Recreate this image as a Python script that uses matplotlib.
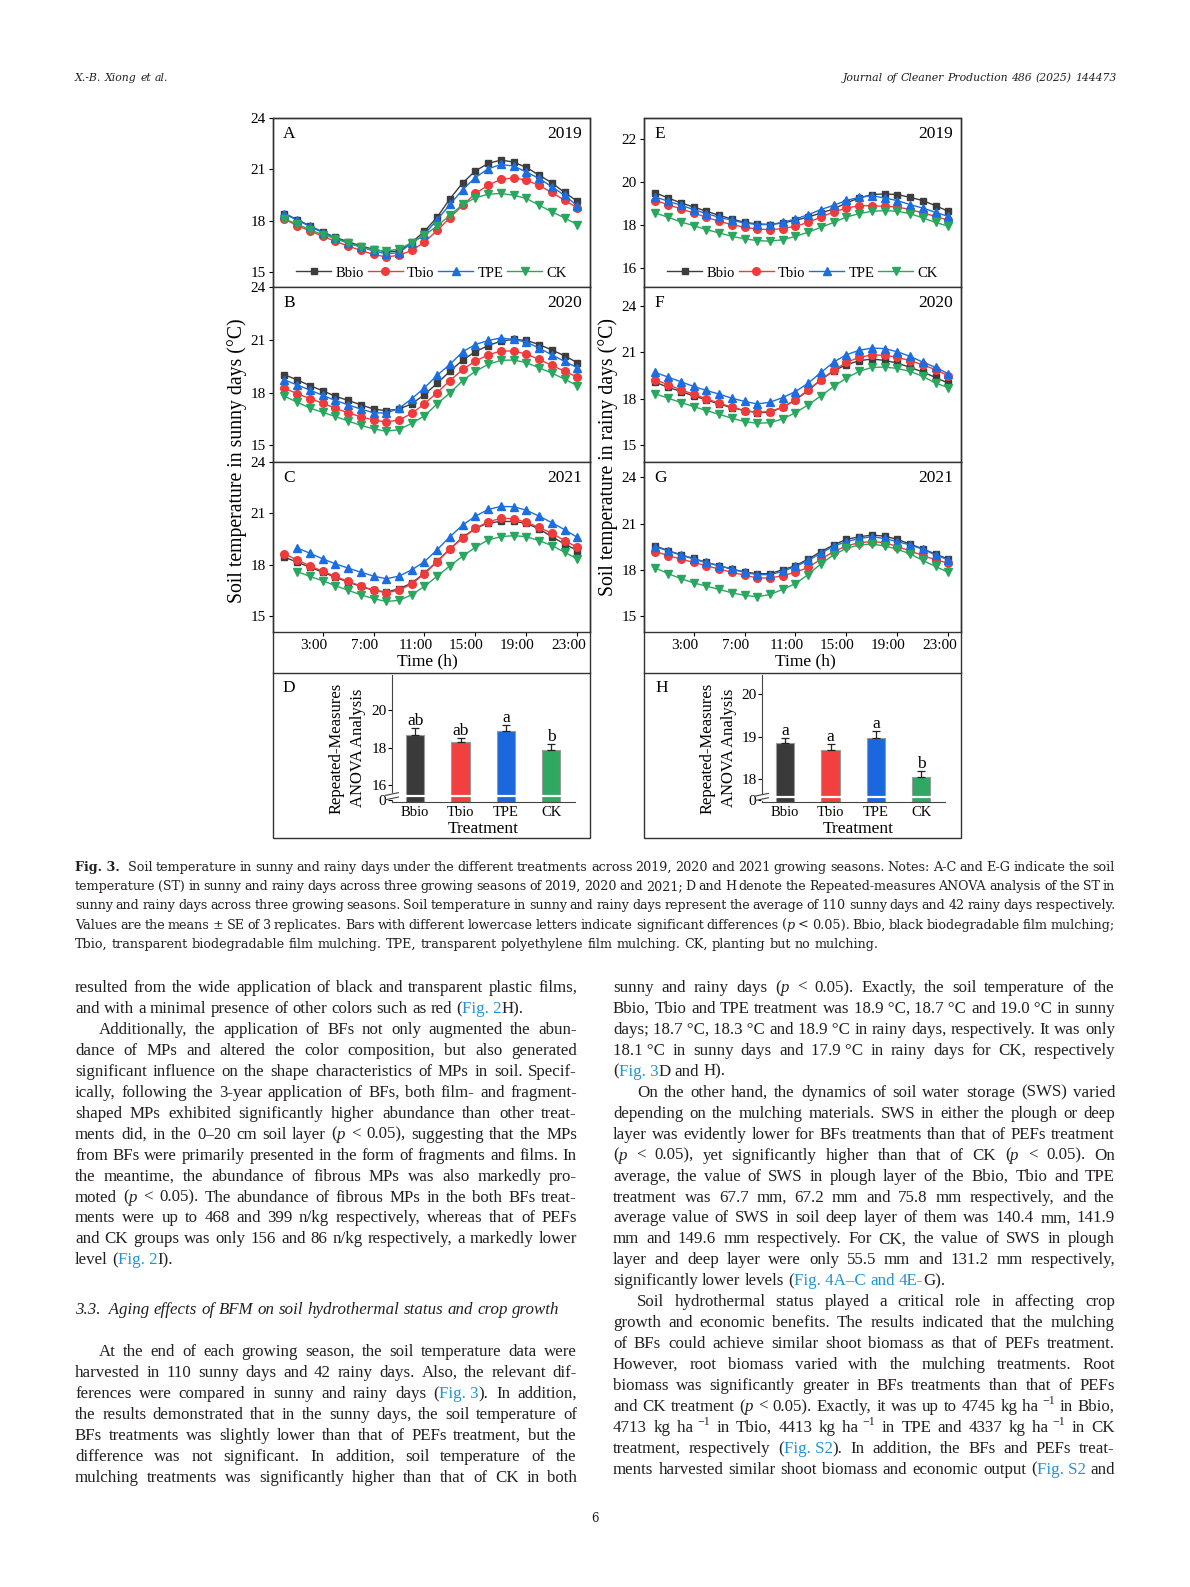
"""
Fig. 3 page: soil temperature in sunny / rainy days (journal page layout)
"""
import numpy as np
import matplotlib
matplotlib.use('Agg')
import matplotlib.pyplot as plt
from matplotlib.font_manager import FontProperties
from matplotlib.transforms import ScaledTranslation
from matplotlib.patches import Rectangle
from matplotlib.lines import Line2D

plt.rcParams['font.family'] = 'Liberation Serif'

W, H = 1190, 1587
nan = np.nan

hours = list(range(24))
treatments = ['Bbio', 'Tbio', 'TPE', 'CK']
colors = ['#3d3d3d', '#ef3b3b', '#1c6ee0', '#2aa75f']
bar_colors = ['#3a3a3a', '#f23f3f', '#1b67dd', '#2fa862']
markers = ['s', 'o', '^', 'v']
msizes = [5, 5.5, 6, 6]
time_ticks = [3, 7, 11, 15, 19, 23]
time_labels = ['3:00', '7:00', '11:00', '15:00', '19:00', '23:00']

# A: sunny days 2019
A_bbio = [18.43, 18.08, 17.71, 17.36, 17.04, 16.79, 16.54, 16.35, 16.20, 16.25, 16.75, 17.40,
          18.23, 19.29, 20.22, 20.92, 21.35, 21.55, 21.43, 21.12, 20.67, 20.22, 19.66, 19.15]
A_tbio = [18.10, 17.73, 17.42, 17.10, 16.81, 16.54, 16.28, 16.05, 15.90, 16.00, 16.28, 16.77,
          17.45, 18.18, 18.92, 19.60, 20.09, 20.42, 20.51, 20.38, 20.07, 19.66, 19.21, 18.76]
A_tpe = [18.43, 18.04, 17.69, 17.32, 17.01, 16.71, 16.48, 16.25, 16.09, 16.15, 16.71, 17.22,
         18.08, 18.96, 19.83, 20.53, 21.04, 21.29, 21.20, 20.85, 20.48, 19.99, 19.50, 18.88]
A_ck = [18.12, 17.81, 17.49, 17.20, 16.97, 16.71, 16.48, 16.30, 16.25, 16.36, 16.73, 17.16,
        17.71, 18.33, 18.96, 19.35, 19.56, 19.60, 19.50, 19.31, 18.92, 18.53, 18.18, 17.79]

# B: sunny days 2020
B_bbio = [19.01, 18.72, 18.39, 18.10, 17.79, 17.55, 17.30, 17.06, 16.97, 17.06, 17.36, 17.88,
          18.53, 19.21, 19.85, 20.32, 20.67, 20.92, 21.02, 20.96, 20.73, 20.42, 20.09, 19.70]
B_tbio = [18.23, 17.94, 17.65, 17.40, 17.10, 16.85, 16.62, 16.44, 16.32, 16.44, 16.81, 17.36,
          18.00, 18.68, 19.31, 19.79, 20.14, 20.36, 20.36, 20.18, 19.89, 19.54, 19.21, 18.88]
B_tpe = [18.72, 18.43, 18.14, 17.84, 17.55, 17.30, 17.06, 16.85, 16.83, 17.10, 17.65, 18.27,
         18.99, 19.60, 20.32, 20.73, 20.96, 21.10, 21.02, 20.87, 20.53, 20.14, 19.77, 19.42]
B_ck = [17.79, 17.45, 17.12, 16.87, 16.64, 16.38, 16.13, 15.93, 15.80, 15.89, 16.25, 16.67,
        17.36, 17.98, 18.68, 19.21, 19.60, 19.83, 19.85, 19.70, 19.40, 19.11, 18.76, 18.39]

# C: sunny days 2021
C_bbio = [18.43, 18.14, 17.84, 17.55, 17.26, 16.97, 16.72, 16.49, 16.39, 16.58, 16.91, 17.50,
          18.19, 18.91, 19.59, 20.12, 20.43, 20.52, 20.52, 20.41, 20.08, 19.63, 19.20, 18.82]
C_tbio = [18.62, 18.27, 17.92, 17.61, 17.30, 17.01, 16.74, 16.49, 16.35, 16.49, 16.87, 17.46,
          18.17, 18.91, 19.55, 20.12, 20.50, 20.70, 20.68, 20.47, 20.17, 19.83, 19.40, 19.01]
C_tpe = [nan, 18.97, 18.66, 18.33, 18.04, 17.79, 17.55, 17.32, 17.17, 17.32, 17.69, 18.17,
         18.87, 19.63, 20.31, 20.83, 21.22, 21.40, 21.38, 21.18, 20.83, 20.45, 20.04, 19.59]
C_ck = [nan, 17.59, 17.30, 17.05, 16.76, 16.49, 16.23, 16.00, 15.84, 15.90, 16.23, 16.72,
        17.32, 17.92, 18.49, 19.01, 19.44, 19.63, 19.69, 19.63, 19.40, 19.11, 18.72, 18.33]

# E: rainy days 2019
E_bbio = [19.50, 19.26, 19.03, 18.84, 18.64, 18.45, 18.28, 18.12, 18.05, 18.02, 18.09, 18.22,
          18.37, 18.56, 18.75, 19.03, 19.26, 19.42, 19.45, 19.42, 19.29, 19.14, 18.90, 18.64]
E_tbio = [19.14, 18.95, 18.75, 18.56, 18.36, 18.17, 18.02, 17.89, 17.81, 17.78, 17.83, 17.94,
          18.12, 18.37, 18.61, 18.79, 18.90, 18.90, 18.87, 18.84, 18.72, 18.56, 18.40, 18.22]
E_tpe = [19.31, 19.11, 18.92, 18.72, 18.53, 18.36, 18.22, 18.09, 18.02, 18.02, 18.12, 18.28,
         18.48, 18.72, 18.92, 19.15, 19.29, 19.37, 19.26, 19.14, 18.95, 18.79, 18.59, 18.40]
E_ck = [18.56, 18.36, 18.14, 17.97, 17.78, 17.63, 17.47, 17.35, 17.27, 17.24, 17.31, 17.47,
        17.66, 17.89, 18.12, 18.37, 18.53, 18.64, 18.67, 18.64, 18.53, 18.33, 18.12, 17.94]

# F: rainy days 2020
F_bbio = [19.04, 18.73, 18.45, 18.17, 17.91, 17.65, 17.40, 17.22, 17.09, 17.11, 17.44, 17.91,
          18.52, 19.21, 19.79, 20.18, 20.44, 20.55, 20.46, 20.29, 20.01, 19.71, 19.36, 18.99]
F_tbio = [19.21, 18.89, 18.56, 18.28, 17.98, 17.70, 17.44, 17.22, 17.11, 17.16, 17.44, 17.91,
          18.56, 19.21, 19.81, 20.33, 20.66, 20.81, 20.79, 20.66, 20.44, 20.18, 19.86, 19.47]
F_tpe = [19.68, 19.38, 19.08, 18.78, 18.52, 18.28, 18.02, 17.81, 17.65, 17.76, 18.06, 18.45,
         18.99, 19.68, 20.35, 20.83, 21.11, 21.26, 21.22, 21.02, 20.72, 20.35, 20.01, 19.60]
F_ck = [18.30, 18.02, 17.74, 17.48, 17.22, 16.98, 16.73, 16.51, 16.40, 16.44, 16.68, 17.09,
        17.59, 18.17, 18.78, 19.32, 19.75, 20.01, 20.03, 19.94, 19.75, 19.43, 18.99, 18.71]

# G: rainy days 2021
G_bbio = [19.54, 19.24, 18.96, 18.73, 18.47, 18.26, 18.04, 17.85, 17.74, 17.74, 18.00, 18.26,
          18.69, 19.18, 19.61, 19.97, 20.14, 20.25, 20.18, 19.97, 19.67, 19.35, 19.01, 18.69]
G_tbio = [19.18, 18.92, 18.69, 18.47, 18.26, 18.04, 17.83, 17.64, 17.46, 17.46, 17.61, 17.83,
          18.15, 18.69, 19.18, 19.54, 19.76, 19.82, 19.76, 19.50, 19.22, 18.92, 18.64, 18.43]
G_tpe = [19.50, 19.22, 18.96, 18.69, 18.47, 18.26, 18.04, 17.83, 17.68, 17.68, 17.89, 18.21,
         18.60, 19.07, 19.54, 19.82, 20.03, 20.14, 20.03, 19.82, 19.61, 19.33, 18.96, 18.64]
G_ck = [18.11, 17.74, 17.42, 17.14, 16.93, 16.72, 16.50, 16.33, 16.24, 16.39, 16.72, 17.10,
        17.68, 18.39, 18.96, 19.39, 19.61, 19.67, 19.54, 19.33, 19.03, 18.60, 18.21, 17.83]

# D / H: repeated-measures ANOVA means, SE and letters
D_means = [18.70, 18.32, 18.91, 17.88]
D_se = [0.34, 0.22, 0.29, 0.30]
D_letters = ['ab', 'ab', 'a', 'b']
H_means = [18.85, 18.68, 18.98, 18.06]
H_se = [0.13, 0.14, 0.15, 0.14]
H_letters = ['a', 'a', 'a', 'b']

fig = plt.figure(figsize=(W / 100, H / 100), dpi=100)
fig.patch.set_facecolor('white')


def rect(x0, y0, x1, y1):
    return [x0 / W, 1 - y1 / H, (x1 - x0) / W, (y1 - y0) / H]


FRAME = '#333333'


def line_panel(box, series, ylim, yticks, letter, year, legend=False, xlabels=False):
    ax = fig.add_axes(rect(*box))
    for vals, c, m, ms, name in zip(series, colors, markers, msizes, treatments):
        ax.plot(hours, vals, color=c, marker=m, ms=ms, lw=1.0, label=name)
    ax.set_xlim(-0.9, 24.0)
    ax.set_ylim(*ylim)
    ax.set_yticks(yticks)
    ax.set_xticks(time_ticks)
    ax.tick_params(direction='out', length=3, width=0.8, labelsize=11, pad=2)
    if xlabels:
        ax.set_xticklabels(time_labels)
        shift = ScaledTranslation(-9 / 100, 0, fig.dpi_scale_trans)
        for lab in ax.get_xticklabels():
            lab.set_transform(lab.get_transform() + shift)
    else:
        ax.set_xticklabels([])
    for s in ax.spines.values():
        s.set_color(FRAME)
        s.set_linewidth(1.0)
    ax.annotate(letter, (0, 1), xycoords='axes fraction', xytext=(10, -16),
                textcoords='offset pixels', ha='left', va='center', fontsize=12.5)
    if year:
        ax.annotate(year, (1, 1), xycoords='axes fraction', xytext=(-8, -16),
                    textcoords='offset pixels', ha='right', va='center', fontsize=12.5)
    if legend:
        ax.legend(loc='center', bbox_to_anchor=(0.5, 0.083), ncol=4, frameon=False,
                  fontsize=10.5, handlelength=2.4, handletextpad=0.3, columnspacing=0.25,
                  borderpad=0, borderaxespad=0)
    return ax


def bar_panel(box, means, se, letters, ylim, yticks, yticklabels, brk):
    ax = fig.add_axes(rect(*box))
    x = np.arange(4)
    base = ylim[0]
    ax.bar(x, np.array(means) - base, bottom=base, width=0.4, color=bar_colors,
           edgecolor='#9a9a9a', lw=0.8, zorder=2)
    ax.errorbar(x, means, yerr=[np.zeros(4), se], fmt='none', ecolor='#222222',
                elinewidth=0.9, capsize=3, capthick=0.9, zorder=3)
    for xi, m, e, lab in zip(x, means, se, letters):
        ax.annotate(lab, (xi, m + e), xytext=(0, 3), textcoords='offset pixels',
                    ha='center', va='baseline', fontsize=12.5)
    ax.hlines(brk, -0.3, 3.3, color='white', lw=1.6, zorder=4)
    ax.set_xlim(-0.51, 3.52)
    ax.set_ylim(*ylim)
    ax.set_yticks(yticks)
    ax.set_yticklabels(yticklabels)
    ax.set_xticks(x)
    ax.set_xticklabels(treatments)
    ax.tick_params(axis='x', direction='in', length=3, labelsize=10.5, pad=3)
    ax.tick_params(axis='y', direction='out', length=3, labelsize=11, pad=1)
    for side in ['top', 'right']:
        ax.spines[side].set_visible(False)
    for side in ['left', 'bottom']:
        ax.spines[side].set_color('#444444')
    # axis break marks
    pxu = (box[3] - box[1]) / (ylim[1] - ylim[0])
    d = 2.2 / pxu
    tr = ax.get_yaxis_transform()
    ax.plot([0, 0], [brk - d, brk + d], color='white', lw=2, transform=tr, clip_on=False, zorder=5)
    for yy in (brk - d, brk + d):
        ax.plot([-0.035, 0.035], [yy - 0.6 * d, yy + 0.6 * d], color='#444444', lw=0.8,
                transform=tr, clip_on=False, zorder=6)
    return ax


# sunny days (left column)
line_panel((273, 118, 590, 287), [A_bbio, A_tbio, A_tpe, A_ck], (14.15, 24), [15, 18, 21, 24],
           'A', '2019', legend=True)
line_panel((273, 287, 590, 462), [B_bbio, B_tbio, B_tpe, B_ck], (14.05, 24), [15, 18, 21, 24],
           'B', '2020')
line_panel((273, 462, 590, 632), [C_bbio, C_tbio, C_tpe, C_ck], (14.05, 24), [15, 18, 21, 24],
           'C', '2021', xlabels=True)
# rainy days (right column)
line_panel((644, 118, 961, 287), [E_bbio, E_tbio, E_tpe, E_ck], (15.1, 23.0), [16, 18, 20, 22],
           'E', '2019', legend=True)
line_panel((644, 287, 961, 462), [F_bbio, F_tbio, F_tpe, F_ck], (13.9, 25.2), [15, 18, 21, 24],
           'F', '2020')
line_panel((644, 462, 961, 632), [G_bbio, G_tbio, G_tpe, G_ck], (13.95, 25.0), [15, 18, 21, 24],
           'G', '2021', xlabels=True)

bar_panel((392, 675, 575, 802), D_means, D_se, D_letters, (15.1, 21.9), [15.22, 16, 18, 20],
          ['0', '16', '18', '20'], 15.41)
bar_panel((762, 675, 945, 802), H_means, H_se, H_letters, (17.46, 20.46), [17.5, 18, 19, 20],
          ['0', '18', '19', '20'], 17.58)

# frames around each column
for x0, x1 in [(273, 590), (644, 961)]:
    fig.add_artist(Rectangle((x0 / W, 1 - 838 / H), (x1 - x0) / W, (838 - 118) / H,
                             transform=fig.transFigure, fill=False, lw=1.0, ec=FRAME))
    fig.add_artist(Line2D([x0 / W, x1 / W], [1 - 673 / H, 1 - 673 / H],
                          transform=fig.transFigure, lw=1.0, color=FRAME))


def ftext(x, y, s, **kw):
    return fig.text(x / W, 1 - y / H, s, **kw)


ftext(427, 661, 'Time (h)', ha='center', va='center', fontsize=12.5)
ftext(805, 661, 'Time (h)', ha='center', va='center', fontsize=12.5)
ftext(237, 461, 'Soil temperature in sunny days (°C)', rotation=90, ha='center', va='center',
      fontsize=14.2)
ftext(608, 457, 'Soil temperature in rainy days (°C)', rotation=90, ha='center', va='center',
      fontsize=14.2)
ftext(289, 688, 'D', ha='center', va='center', fontsize=12.5)
ftext(662, 688, 'H', ha='center', va='center', fontsize=12.5)
for xc in (347, 718):
    ftext(xc, 748, 'Repeated-Measures\nANOVA Analysis', rotation=90, ha='center', va='center',
          fontsize=12, linespacing=1.45, multialignment='center')
ftext(483, 829, 'Treatment', ha='center', va='center', fontsize=12.5)
ftext(858, 829, 'Treatment', ha='center', va='center', fontsize=12.5)

# ---------------- page text ----------------
INK = '#231f20'
BLUE = '#2093d4'
renderer = fig.canvas.get_renderer()
_cache = {}


def fprops(family, size, st):
    return FontProperties(family=family, size=size * (0.7 if st['sup'] else 1.0),
                          style='italic' if st['ital'] else 'normal',
                          weight='bold' if st['bold'] else 'normal')


def adv(s, prop):
    key = (s, prop.get_family()[0], prop.get_size(), prop.get_style(), prop.get_weight())
    if key not in _cache:
        w1 = renderer.get_text_width_height_descent('x' + s + 'x', prop, ismath=False)[0]
        w0 = renderer.get_text_width_height_descent('xx', prop, ismath=False)[0]
        _cache[key] = w1 - w0
    return _cache[key]


def parse(line):
    words, cur, buf = [], [], ['']
    st = dict(blue=False, ital=False, bold=False, sup=False)

    def flush():
        if buf[0]:
            cur.append((buf[0], dict(st)))
            buf[0] = ''

    for ch in line:
        if ch == ' ':
            flush()
            if cur:
                words.append(list(cur))
            cur.clear()
            st['sup'] = False
        elif ch in '{}':
            flush()
            st['blue'] = (ch == '{')
        elif ch == '|':
            flush()
            st['ital'] = not st['ital']
        elif ch == '*':
            flush()
            st['bold'] = not st['bold']
        elif ch == '^':
            flush()
            st['sup'] = True
        else:
            buf[0] += ' ' if ch == '~' else ch
    flush()
    if cur:
        words.append(list(cur))
    return words


PLAIN = dict(blue=False, ital=False, bold=False, sup=False)


def natural_width(line, family, size):
    words = parse(line)
    widths = [sum(adv(s, fprops(family, size, st)) for s, st in w) for w in words]
    return sum(widths) + adv(' ', fprops(family, size, PLAIN)) * (len(words) - 1)


def text_line(line, x0, x1, y, family, size, justify=True, indent=0, color=INK, minspace=0.75):
    words = parse(line)
    x0 = x0 + indent
    avail = x1 - x0
    widths = [sum(adv(s, fprops(family, size, st)) for s, st in w) for w in words]
    space = adv(' ', fprops(family, size, PLAIN))
    total = sum(widths) + minspace * space * (len(words) - 1)
    k = min(1.0, avail / total)
    if justify and len(words) > 1:
        gap = (avail - k * sum(widths)) / (len(words) - 1)
    else:
        gap = space * k
    x = x0
    for w, ww in zip(words, widths):
        xx = x
        for s, st in w:
            p = fprops(family, size * k, st)
            dy = 0.4 * size * k * 100 / 72 if st['sup'] else 0
            fig.text(xx / W, (H - y + dy) / H, s, fontproperties=p,
                     color=BLUE if st['blue'] else color, ha='left', va='baseline')
            xx += adv(s, p)
        x += ww * k + gap


# running header
HFONT, HSIZE = 'DejaVu Serif', 7.8
text_line('|X.-B. Xiong et al.|', 75, 400, 81, HFONT, HSIZE, justify=False)
hdr = '|Journal of Cleaner Production 486 (2025) 144473|'
hw = natural_width(hdr, HFONT, HSIZE)
text_line(hdr, 1116 - hw, 1116, 81, HFONT, HSIZE, justify=False, minspace=1.0)

# caption
caption = [
    '*Fig.~3.*~~Soil temperature in sunny and rainy days under the different treatments across 2019, 2020 and 2021 growing seasons. Notes: A-C and E-G indicate the soil',
    'temperature (ST) in sunny and rainy days across three growing seasons of 2019, 2020 and 2021; D and H denote the Repeated-measures ANOVA analysis of the ST in',
    'sunny and rainy days across three growing seasons. Soil temperature in sunny and rainy days represent the average of 110 sunny days and 42 rainy days respectively.',
    'Values are the means ± SE of 3 replicates. Bars with different lowercase letters indicate significant differences (|p| < 0.05). Bbio, black biodegradable film mulching;',
    'Tbio, transparent biodegradable film mulching. TPE, transparent polyethylene film mulching. CK, planting but no mulching.',
]
for i, ln in enumerate(caption):
    text_line(ln, 75, 1115, 871 + i * 19.2, 'DejaVu Serif', 9.2, justify=(i < len(caption) - 1))

BODY = 'Liberation Serif'
BSIZE = 12.2
LH = 20.95

# left column: (text, justify, indent)
left_col = [
    ('resulted from the wide application of black and transparent plastic films,', True, 0),
    ('and with a minimal presence of other colors such as red ({Fig.~2}H).', False, 0),
    ('Additionally, the application of BFs not only augmented the abun-', True, 24),
    ('dance of MPs and altered the color composition, but also generated', True, 0),
    ('significant influence on the shape characteristics of MPs in soil. Specif-', True, 0),
    ('ically, following the 3-year application of BFs, both film- and fragment-', True, 0),
    ('shaped MPs exhibited significantly higher abundance than other treat-', True, 0),
    ('ments did, in the 0–20 cm soil layer (|p| < 0.05), suggesting that the MPs', True, 0),
    ('from BFs were primarily presented in the form of fragments and films. In', True, 0),
    ('the meantime, the abundance of fibrous MPs was also markedly pro-', True, 0),
    ('moted (|p| < 0.05). The abundance of fibrous MPs in the both BFs treat-', True, 0),
    ('ments were up to 468 and 399 n/kg respectively, whereas that of PEFs', True, 0),
    ('and CK groups was only 156 and 86 n/kg respectively, a markedly lower', True, 0),
    ('level ({Fig.~2}I).', False, 0),
]
for i, (ln, j, ind) in enumerate(left_col):
    text_line(ln, 75, 577, 992 + i * LH, BODY, BSIZE, justify=j, indent=ind)

text_line('|3.3.~~Aging effects of BFM on soil hydrothermal status and crop growth|', 75, 577,
          1314, BODY, BSIZE, justify=False)

left_col2 = [
    ('At the end of each growing season, the soil temperature data were', True, 24),
    ('harvested in 110 sunny days and 42 rainy days. Also, the relevant dif-', True, 0),
    ('ferences were compared in sunny and rainy days ({Fig.~3}). In addition,', True, 0),
    ('the results demonstrated that in the sunny days, the soil temperature of', True, 0),
    ('BFs treatments was slightly lower than that of PEFs treatment, but the', True, 0),
    ('difference was not significant. In addition, soil temperature of the', True, 0),
    ('mulching treatments was significantly higher than that of CK in both', True, 0),
]
for i, (ln, j, ind) in enumerate(left_col2):
    text_line(ln, 75, 577, 1356 + i * LH, BODY, BSIZE, justify=j, indent=ind)

right_col = [
    ('sunny and rainy days (|p| < 0.05). Exactly, the soil temperature of the', True, 0),
    ('Bbio, Tbio and TPE treatment was 18.9~°C, 18.7~°C and 19.0~°C in sunny', True, 0),
    ('days; 18.7~°C, 18.3~°C and 18.9~°C in rainy days, respectively. It was only', True, 0),
    ('18.1~°C in sunny days and 17.9~°C in rainy days for CK, respectively', True, 0),
    ('({Fig.~3}D and H).', False, 0),
    ('On the other hand, the dynamics of soil water storage (SWS) varied', True, 24),
    ('depending on the mulching materials. SWS in either the plough or deep', True, 0),
    ('layer was evidently lower for BFs treatments than that of PEFs treatment', True, 0),
    ('(|p| < 0.05), yet significantly higher than that of CK (|p| < 0.05). On', True, 0),
    ('average, the value of SWS in plough layer of the Bbio, Tbio and TPE', True, 0),
    ('treatment was 67.7 mm, 67.2 mm and 75.8 mm respectively, and the', True, 0),
    ('average value of SWS in soil deep layer of them was 140.4 mm, 141.9', True, 0),
    ('mm and 149.6 mm respectively. For CK, the value of SWS in plough', True, 0),
    ('layer and deep layer were only 55.5 mm and 131.2 mm respectively,', True, 0),
    ('significantly lower levels ({Fig.~4A–C and 4E-}G).', False, 0),
    ('Soil hydrothermal status played a critical role in affecting crop', True, 24),
    ('growth and economic benefits. The results indicated that the mulching', True, 0),
    ('of BFs could achieve similar shoot biomass as that of PEFs treatment.', True, 0),
    ('However, root biomass varied with the mulching treatments. Root', True, 0),
    ('biomass was significantly greater in BFs treatments than that of PEFs', True, 0),
    ('and CK treatment (|p| < 0.05). Exactly, it was up to 4745 kg ha~^−1 in Bbio,', True, 0),
    ('4713 kg ha~^−1 in Tbio, 4413 kg ha~^−1 in TPE and 4337 kg ha~^−1 in CK', True, 0),
    ('treatment, respectively ({Fig.~S2}). In addition, the BFs and PEFs treat-', True, 0),
    ('ments harvested similar shoot biomass and economic output ({Fig.~S2} and', True, 0),
]
for i, (ln, j, ind) in enumerate(right_col):
    text_line(ln, 613, 1115, 992 + i * LH, BODY, BSIZE, justify=j, indent=ind)

ftext(595, 1518, '6', ha='center', va='center', fontsize=8.5, family='DejaVu Serif', color=INK)

fig.savefig('out.png', dpi=100, facecolor='white')
